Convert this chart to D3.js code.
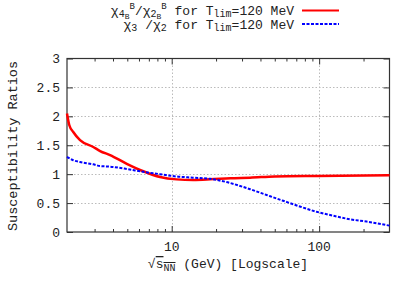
<!DOCTYPE html>
<html>
<head>
<meta charset="utf-8">
<script src="https://cdn.jsdelivr.net/npm/d3@7"></script>
<style>
  body { margin: 0; background: #fff; }
  svg text { font-family: "Courier New", "Liberation Mono", Courier, monospace; fill: #222; }
</style>
</head>
<body>
<div id="chart"></div>
<script>
const width = 415;
const height = 291;

// values
const red_x = [1.95, 2.02, 2.15, 2.39, 2.94, 3.27, 3.82, 4.96, 6.42, 8.34, 10.8, 14.0, 18.2, 25, 34, 50, 96, 300];
const red_y = [2.05, 1.85, 1.73, 1.59, 1.47, 1.40, 1.33, 1.18, 1.05, 0.95, 0.91, 0.90, 0.91, 0.93, 0.94, 0.96, 0.97, 0.98];

const blue_x = [1.95, 2.15, 2.39, 2.94, 3.27, 3.82, 4.96, 6.42, 8.34, 10.8, 14.0, 18.2, 23, 34, 44, 57, 74, 96, 125, 162, 210, 300];
const blue_y = [1.30, 1.24, 1.21, 1.17, 1.14, 1.13, 1.09, 1.04, 1.00, 0.96, 0.94, 0.92, 0.87, 0.74, 0.64, 0.54, 0.44, 0.35, 0.28, 0.22, 0.18, 0.11];

const y_ticks = [0, 0.5, 1, 1.5, 2, 2.5, 3];
const y_tick_labels = ["0", "0.5", "1", "1.5", "2", "2.5", "3"];
const x_major = [10, 100];
const x_minor = [3, 4, 5, 6, 7, 8, 9, 20, 30, 40, 50, 60, 70, 80, 90, 200];

const red_data = red_x.map((x, i) => ({x, y: red_y[i]}));
const blue_data = blue_x.map((x, i) => ({x, y: blue_y[i]}));

const plot_left = 67, plot_right = 389.5, plot_top = 58.5, plot_bottom = 232;

const svg = d3.select("#chart").append("svg").attr("width", width).attr("height", height);

const x_scale = d3.scaleLog().domain([1.95, 300]).range([plot_left, plot_right]);
const y_scale = d3.scaleLinear().domain([0, 3]).range([plot_bottom, plot_top]);

// grid
const grid = svg.append("g").attr("stroke", "#bbb").attr("stroke-width", 1).attr("stroke-dasharray", "1.5,2");
grid.selectAll("line.gy")
    .data(y_ticks.slice(1, -1))
    .enter().append("line")
    .attr("x1", plot_left).attr("x2", plot_right)
    .attr("y1", d => Math.round(y_scale(d)) + 0.5)
    .attr("y2", d => Math.round(y_scale(d)) + 0.5);
grid.selectAll("line.gx")
    .data(x_major)
    .enter().append("line")
    .attr("y1", plot_top).attr("y2", plot_bottom)
    .attr("x1", d => Math.round(x_scale(d)) + 0.5)
    .attr("x2", d => Math.round(x_scale(d)) + 0.5);

// axes (ticks drawn inward, mirrored)
const y_axis_left = d3.axisRight(y_scale).tickValues(y_ticks).tickSize(6).tickFormat("");
const y_axis_right = d3.axisLeft(y_scale).tickValues(y_ticks).tickSize(6).tickFormat("");
const x_axis_bottom = d3.axisTop(x_scale).tickValues(x_major).tickSize(6).tickFormat("");
const x_axis_top = d3.axisBottom(x_scale).tickValues(x_major).tickSize(6).tickFormat("");
const x_minor_bottom = d3.axisTop(x_scale).tickValues(x_minor).tickSize(3).tickFormat("");
const x_minor_top = d3.axisBottom(x_scale).tickValues(x_minor).tickSize(3).tickFormat("");

svg.append("g").attr("transform", `translate(${plot_left},0)`).call(y_axis_left);
svg.append("g").attr("transform", `translate(${plot_right},0)`).call(y_axis_right);
svg.append("g").attr("transform", `translate(0,${plot_bottom})`).call(x_axis_bottom);
svg.append("g").attr("transform", `translate(0,${plot_top})`).call(x_axis_top);
svg.append("g").attr("transform", `translate(0,${plot_bottom})`).call(x_minor_bottom);
svg.append("g").attr("transform", `translate(0,${plot_top})`).call(x_minor_top);
svg.selectAll(".domain").remove();
svg.selectAll(".tick line").attr("stroke", "#333");

// border
svg.append("rect")
    .attr("x", plot_left).attr("y", plot_top)
    .attr("width", plot_right - plot_left).attr("height", plot_bottom - plot_top)
    .attr("fill", "none").attr("stroke", "#333").attr("stroke-width", 1.2);

// tick labels
svg.selectAll("text.ylab")
    .data(y_ticks)
    .enter().append("text")
    .attr("x", 60).attr("y", d => y_scale(d) + 4.5)
    .attr("text-anchor", "end")
    .style("font-size", "13px")
    .text((d, i) => y_tick_labels[i]);

svg.selectAll("text.xlab")
    .data(x_major)
    .enter().append("text")
    .attr("x", d => x_scale(d)).attr("y", 251)
    .attr("text-anchor", "middle")
    .style("font-size", "13px")
    .text(d => d);

// axis labels
svg.append("text")
    .attr("transform", "rotate(-90)")
    .attr("x", -146).attr("y", 17)
    .attr("text-anchor", "middle")
    .style("font-size", "13.5px")
    .text("Susceptibility Ratios");

const xl = svg.append("text")
    .attr("x", 228).attr("y", 268)
    .attr("text-anchor", "middle")
    .style("font-size", "13px");
xl.append("tspan").text("√");
xl.append("tspan").style("text-decoration", "overline").text("s");
xl.append("tspan").attr("dy", 3).style("font-size", "10px").style("text-decoration", "overline").text("NN");
xl.append("tspan").attr("dy", -3).text(" (GeV)  [Logscale]");

// lines
const line = d3.line().x(d => x_scale(d.x)).y(d => y_scale(d.y)).curve(d3.curveMonotoneX);

svg.append("path")
    .datum(red_data)
    .attr("fill", "none")
    .attr("stroke", "#ff0000")
    .attr("stroke-width", 2.5)
    .attr("d", line);

svg.append("path")
    .datum(blue_data)
    .attr("fill", "none")
    .attr("stroke", "#0000ff")
    .attr("stroke-width", 2)
    .attr("stroke-dasharray", "3,1.5")
    .attr("d", line);

// legend
const t1 = svg.append("text").attr("x", 294).attr("y", 14.5).attr("text-anchor", "end").style("font-size", "13px");
t1.append("tspan").text("χ");
t1.append("tspan").attr("dy", 2.5).style("font-size", "10px").text("4");
t1.append("tspan").attr("dy", 1.5).style("font-size", "8px").text("B");
t1.append("tspan").attr("dy", -10).style("font-size", "9px").text("B");
t1.append("tspan").attr("dy", 6).text("/χ");
t1.append("tspan").attr("dy", 2.5).style("font-size", "10px").text("2");
t1.append("tspan").attr("dy", 1.5).style("font-size", "8px").text("B");
t1.append("tspan").attr("dy", -10).style("font-size", "9px").text("B");
t1.append("tspan").attr("dy", 6).text(" for T");
t1.append("tspan").attr("dy", 2.5).style("font-size", "10px").text("lim");
t1.append("tspan").attr("dy", -2.5).text("=120 MeV");

const t2 = svg.append("text").attr("x", 294).attr("y", 28.5).attr("text-anchor", "end").style("font-size", "13px");
t2.append("tspan").text("χ");
t2.append("tspan").attr("dy", 2.5).style("font-size", "10px").text("3");
t2.append("tspan").attr("dy", -2.5).text(" /χ");
t2.append("tspan").attr("dy", 2.5).style("font-size", "10px").text("2");
t2.append("tspan").attr("dy", -2.5).text("  for T");
t2.append("tspan").attr("dy", 2.5).style("font-size", "10px").text("lim");
t2.append("tspan").attr("dy", -2.5).text("=120 MeV");

svg.append("line")
    .attr("x1", 302).attr("x2", 339).attr("y1", 10.5).attr("y2", 10.5)
    .attr("stroke", "#ff0000").attr("stroke-width", 2);
svg.append("line")
    .attr("x1", 302).attr("x2", 339).attr("y1", 24).attr("y2", 24)
    .attr("stroke", "#0000ff").attr("stroke-width", 2).attr("stroke-dasharray", "3,1.5");
</script>
</body>
</html>
